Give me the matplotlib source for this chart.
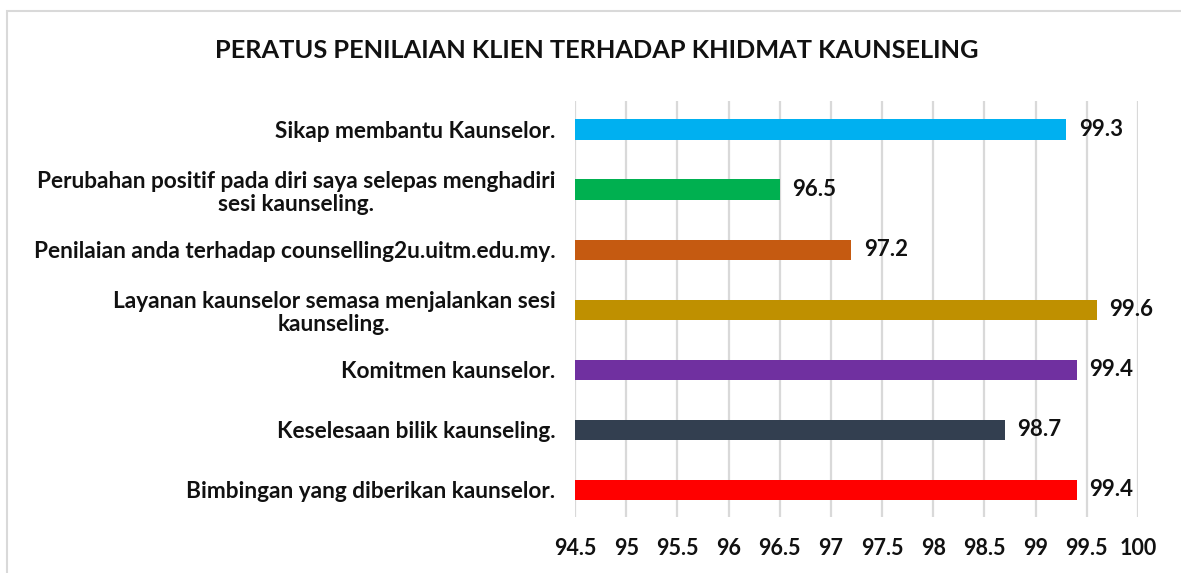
import matplotlib.pyplot as plt
from matplotlib.patches import Rectangle

# Data, bottom to top as drawn
categories = [
    "Bimbingan yang diberikan kaunselor.",
    "Keselesaan bilik kaunseling.",
    "Komitmen kaunselor.",
    "Layanan kaunselor semasa menjalankan sesi\nkaunseling.",
    "Penilaian anda terhadap counselling2u.uitm.edu.my.",
    "Perubahan positif pada diri saya selepas menghadiri\nsesi kaunseling.",
    "Sikap membantu Kaunselor.",
]
values = [99.4, 98.7, 99.4, 99.6, 97.2, 96.5, 99.3]
colors = ["#FF0000", "#333F50", "#7030A0", "#BF9000", "#C55A11", "#00B050", "#00B0F0"]
xticks = [94.5, 95, 95.5, 96, 96.5, 97, 97.5, 98, 98.5, 99, 99.5, 100]
title = "PERATUS PENILAIAN KLIEN TERHADAP KHIDMAT KAUNSELING"

plt.rcParams["font.family"] = ["Lato", "DejaVu Sans"]
plt.rcParams["font.weight"] = "bold"
ink = "#111111"

fig = plt.figure(figsize=(11.81, 5.73), dpi=100)
# axes box in pixels: x 575..1138, y 101..517
ax = fig.add_axes([575 / 1181, 1 - 517 / 573, 563 / 1181, 416 / 573])

# chart frame
fig.patches.append(Rectangle((7 / 1181, -0.1), 1.2, 1 - 11 / 573 + 0.1,
                             transform=fig.transFigure, fill=False,
                             edgecolor="#D9D9D9", linewidth=1.5, zorder=0))

y = range(len(categories))
base = xticks[0]
ax.barh(y, [v - base for v in values], left=base, height=0.345, color=colors, zorder=3)
for yi, v in zip(y, values):
    ax.text(v + 0.12, yi, f"{v:g}", va="center", ha="left", fontsize=16,
            fontweight="bold", color=ink)

ax.set_xlim(94.5, 100)
ax.set_ylim(-0.45, 6.48)
ax.set_xticks(xticks)
ax.set_xticklabels([f"{t:g}" for t in xticks], fontsize=15.5, fontweight="bold", color=ink)
ax.set_yticks(list(y))
ax.set_yticklabels(categories, fontsize=16.3, fontweight="bold", color=ink,
                   multialignment="center", linespacing=1.15)
ax.tick_params(axis="both", length=0)
ax.tick_params(axis="x", pad=15)
ax.tick_params(axis="y", pad=14)
ax.grid(axis="x", color="#D9D9D9", linewidth=1.6, zorder=0)
for s in ax.spines.values():
    s.set_visible(False)

fig.text(597 / 1181, 1 - 50 / 573, title, ha="center", va="center", fontsize=18.3,
         fontweight="bold", color=ink)

fig.savefig("out.png", dpi=100)
